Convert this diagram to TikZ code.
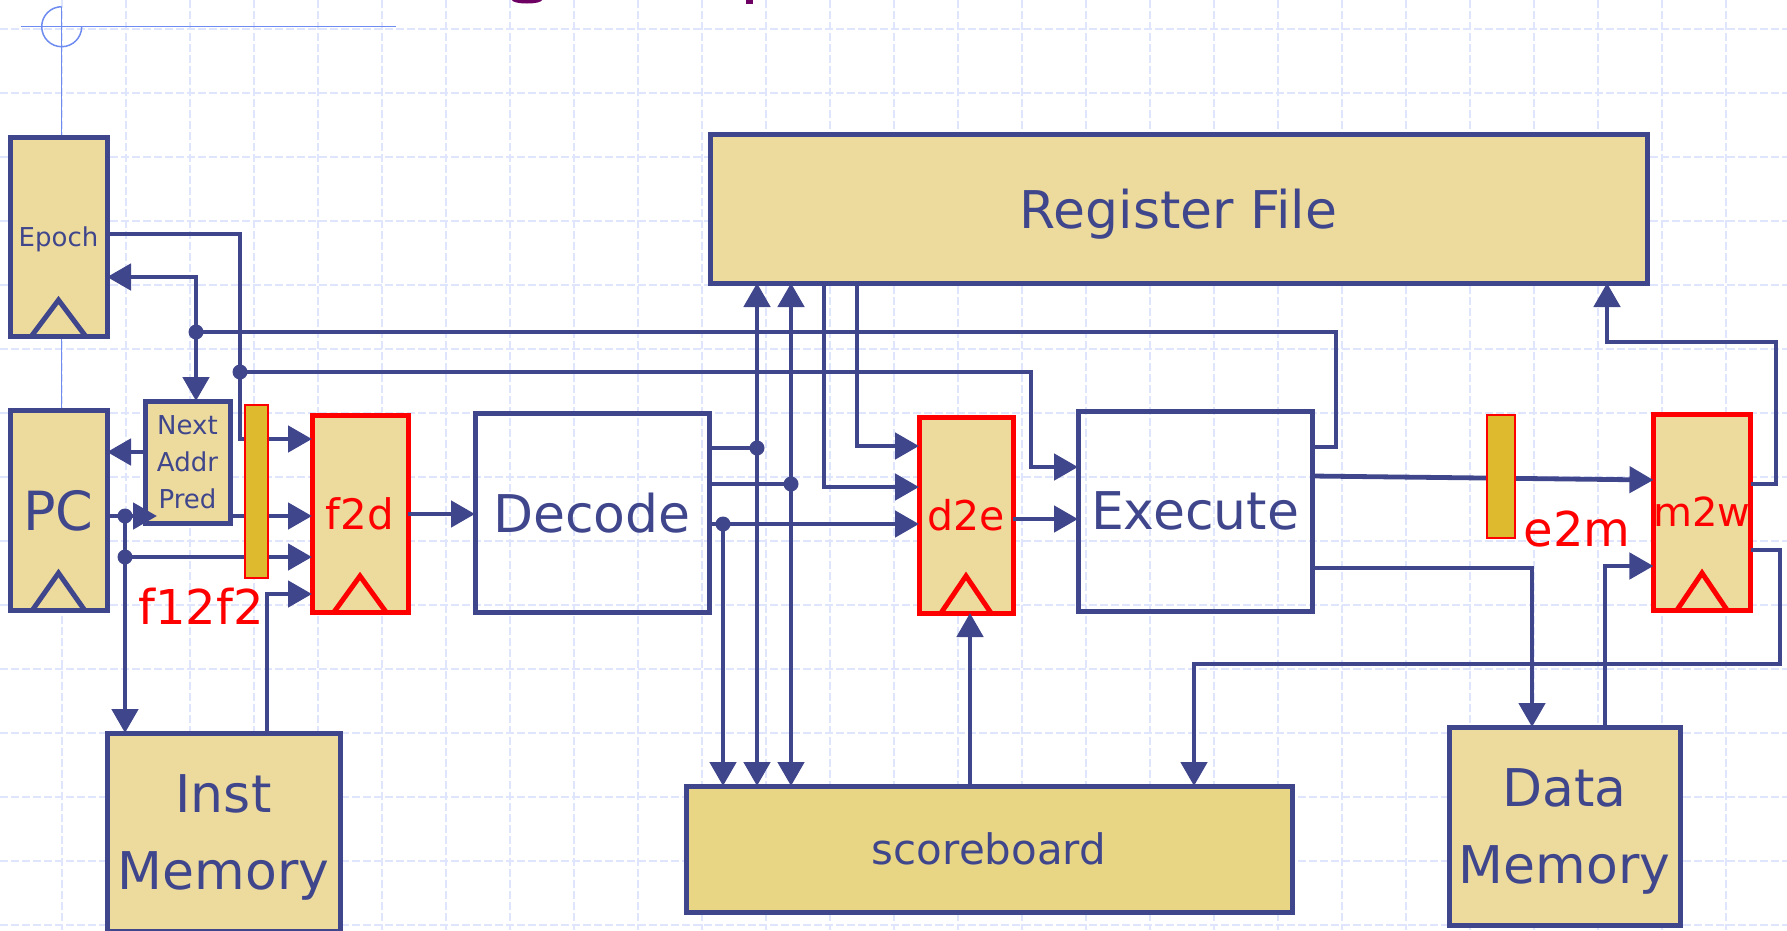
\documentclass[tikz,border=0pt]{standalone}
\usepackage{fontspec}
\setmainfont{DejaVu Sans}
\usetikzlibrary{arrows.meta}

\definecolor{navy}{RGB}{64,70,140}
\definecolor{khaki}{RGB}{237,219,157}
\definecolor{sbfill}{RGB}{233,214,133}
\definecolor{gold}{RGB}{222,186,46}
\definecolor{gridc}{RGB}{222,229,252}
\definecolor{guide}{RGB}{110,140,240}
\definecolor{titlec}{RGB}{110,0,100}

\newcommand\setfs[2]{\fontsize{#1}{#2}\selectfont}

\begin{document}
\begin{tikzpicture}[x=1pt,y=-1pt,
  wire/.style={draw=navy,line width=4.8pt},
  arr/.style={wire,-{Triangle[length=24pt,width=26pt]}},
  box/.style={draw=navy,line width=5pt,fill=khaki,inner sep=0pt,outer sep=0pt,
              text=navy,align=center,text depth=0pt,font=\setfs{52}{77}},
  stagebox/.style={box,fill=none},
  latch/.style={box,draw=red,text=red},
  pipebar/.style={draw=red,line width=1.5pt,fill=gold,inner sep=0pt,outer sep=0pt},
  jdot/.style={circle,fill=navy,inner sep=0pt,minimum size=15pt},
  clk/.style={line width=5pt,line join=miter},
  gridline/.style={draw=gridc,line width=1.3pt,dash pattern=on 8pt off 3pt},
  redlabel/.style={text=red,inner sep=0pt,font=\setfs{48}{56}}
]
\useasboundingbox (0,0) rectangle (1787,930);
\clip (0,0) rectangle (1787,930);

% background grid
\foreach \gx in {62,126,...,1790} \draw[gridline] (\gx,0) -- (\gx,930);
\foreach \gy in {29,93,...,930} \draw[gridline] (0,\gy) -- (1787,\gy);

% descenders of the slide title cut off at the top edge
\fill[titlec] (527,0) ellipse (15 and 3.5);
\fill[titlec] (746,0) rectangle (753,3.5);

% alignment guide
\draw[guide,line width=1.5pt] (21,26.7) -- (396,26.7);
\draw[guide,line width=1.5pt] (61.7,6.7) -- (61.7,410);
\draw[guide,line width=1.5pt] (61.7,6.7) arc[start angle=-90,end angle=-360,radius=20];

% blocks
\node[box,minimum width=97,minimum height=199,font=\setfs{26}{32}] (epoch) at (58.5,236.5) {Epoch};
\node[box,minimum width=97,minimum height=200,font=\setfs{54}{60}] (pc) at (58.5,510) {PC};
\node[box,minimum width=85,minimum height=122,font=\setfs{26}{37}] (nap) at (187.5,462) {Next\\Addr\\Pred};
\node[latch,minimum width=96,minimum height=197,font=\setfs{42}{50}] (f2d) at (360,513.5) {f2d};
\node[stagebox,minimum width=234,minimum height=199] (decode) at (592,512.5) {Decode};
\node[box,minimum width=937,minimum height=149] (rf) at (1178.5,208.5) {Register File};
\node[latch,minimum width=94,minimum height=196,font=\setfs{41}{50}] (d2e) at (966,515) {d2e};
\node[stagebox,minimum width=234,minimum height=200] (exe) at (1195,511) {Execute};
\node[latch,minimum width=94,minimum height=196,font=\setfs{40}{50}] (m2w) at (1702,512) {m2w};
\node[box,minimum width=233,minimum height=198] (imem) at (223.5,832) {Inst\\Memory};
\node[box,fill=sbfill,minimum width=606,minimum height=126,font=\setfs{42}{50}] (sb) at (989,849) {scoreboard};
\node[box,minimum width=231,minimum height=198] (dmem) at (1564.5,826) {Data\\Memory};

% clock inputs
\draw[clk,navy] ([xshift=-27pt]epoch.south) -- ([yshift=36pt]epoch.south) -- ([xshift=27pt]epoch.south);
\draw[clk,navy] ([xshift=-26pt]pc.south) -- ([yshift=37pt]pc.south) -- ([xshift=26pt]pc.south);
\draw[clk,red] ([xshift=-26pt]f2d.south) -- ([yshift=36pt]f2d.south) -- ([xshift=26pt]f2d.south);
\draw[clk,red] ([xshift=-25pt]d2e.south) -- ([yshift=37pt]d2e.south) -- ([xshift=25pt]d2e.south);
\draw[clk,red] ([xshift=-25pt]m2w.south) -- ([yshift=37pt]m2w.south) -- ([xshift=25pt]m2w.south);

% junctions
\node[jdot] (j1) at (240,372) {};
\node[jdot] (j2) at (196,332) {};
\node[jdot] (j3) at (125,516) {};
\node[jdot] (j4) at (125,557) {};
\node[jdot] (j5) at (757,448) {};
\node[jdot] (j6) at (791,484) {};
\node[jdot] (j7) at (723,524) {};

% fetch
\draw[arr] (epoch.east |- 0,234) -- (240,234) -- (240,439) -- (f2d.west |- 0,439);
\draw[arr] (j1.center) -- (1031,372) -- (1031,467) -- (exe.west |- 0,467);
\draw[wire] (exe.east |- 0,447) -- (1336,447) -- (1336,332) -- (j2.center);
\draw[arr] (j2.center) -- (196,277) -- (epoch.east |- 0,277);
\draw[arr] (j2.center) -- (nap.north -| j2);
\draw[arr] (nap.west |- 0,452) -- (pc.east |- 0,452);
\draw[arr] (pc.east |- 0,516) -- ([xshift=12pt]nap.west |- 0,516);
\draw[arr] (nap.east |- 0,516) -- (f2d.west |- 0,516);
\draw[arr] (j3.center) -- (imem.north -| j3);
\draw[arr] (j4.center) -- (f2d.west |- 0,557);
\draw[arr] (imem.north -| 267,0) -- (267,594) -- (f2d.west |- 0,594);
\draw[arr] (f2d.east |- 0,514) -- (decode.west |- 0,514);

% decode
\draw[wire] (decode.east |- 0,448) -- (j5.center);
\draw[arr] (j5.center) -- (rf.south -| j5);
\draw[arr] (j5.center) -- (sb.north -| j5);
\draw[wire] (decode.east |- 0,484) -- (j6.center);
\draw[arr] (j6.center) -- (rf.south -| j6);
\draw[arr] (j6.center) -- (sb.north -| j6);
\draw[arr] (decode.east |- 0,524) -- (d2e.west |- 0,524);
\draw[arr] (j7.center) -- (sb.north -| j7);
\draw[arr] (rf.south -| 824,0) -- (824,487) -- (d2e.west |- 0,487);
\draw[arr] (rf.south -| 857,0) -- (857,446) -- (d2e.west |- 0,446);
\draw[arr] (sb.north -| 970,0) -- (d2e.south -| 970,0);

% execute, memory, writeback
\draw[arr] (d2e.east |- 0,519) -- (exe.west |- 0,519);
\draw[arr] (exe.east |- 0,476) -- (m2w.west |- 0,480);
\draw[arr] (exe.east |- 0,568) -- (1532,568) -- (dmem.north -| 1532,0);
\draw[arr] (dmem.north -| 1605,0) -- (1605,566) -- (m2w.west |- 0,566);
\draw[arr] (m2w.east |- 0,484) -- (1776,484) -- (1776,342) -- (1607,342) -- (rf.south -| 1607,0);
\draw[arr] (m2w.east |- 0,550) -- (1780,550) -- (1780,664) -- (1194,664) -- (sb.north -| 1194,0);

% intermediate pipeline registers
\node[pipebar,minimum width=23,minimum height=173] (f12f2) at (256.5,491.5) {};
\node[pipebar,minimum width=28,minimum height=123] (e2m) at (1501,476.5) {};
\node[redlabel] (f12f2lbl) at (201,606) {f12f2};
\node[redlabel] (e2mlbl) at (1577,529) {e2m};
\end{tikzpicture}
\end{document}
